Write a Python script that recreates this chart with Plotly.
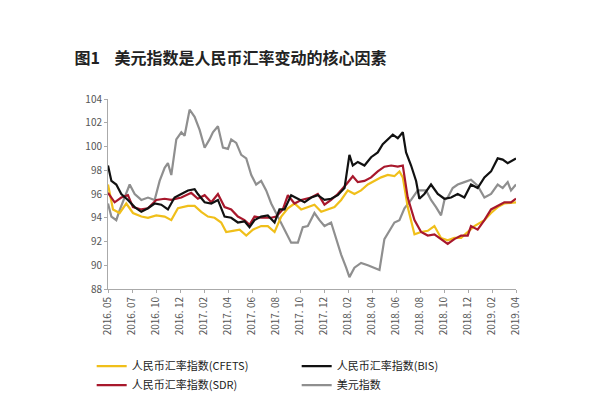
import plotly.graph_objects as go
import numpy as np

tick_labels = ["2016. 05","2016. 07","2016. 10","2016. 12","2017. 02","2017. 04","2017. 06","2017. 08","2017. 10",
               "2017. 12","2018. 02","2018. 04","2018. 06","2018. 08","2018. 10","2018. 12","2019. 02","2019. 04"]

usd_x = [0,0.29,0.71,1.0,1.86,2.29,2.86,3.43,4.0,4.43,4.86,5.14,5.43,5.86,6.29,6.57,7.0,7.43,7.86,8.29,8.71,9.0,9.43,9.86,10.29,10.57,11.0,11.43,11.86,12.29,12.71,13.14,13.57,14.0,14.57,15.14,15.71,16.29,16.71,17.14,17.71,18.14,18.57,19.14,19.57,20.0,20.43,20.71,21.14,21.71,22.29,22.86,23.29,23.71,24.14,24.57,25.0,25.43,26.0,26.57,27.29,27.71,28.14,28.57,28.86,29.14,29.57,30.0,30.57,31.14,31.71,32.29,32.86,33.43,33.86,34.29,34.57,35]
usd_y = [95.2,94.1,93.8,94.65,96.8,96.0,95.5,95.7,95.5,97.1,98.2,98.6,97.6,100.6,101.2,100.9,103.1,102.5,101.4,99.9,100.6,101.2,101.7,99.9,99.8,100.6,100.3,99.3,99.0,97.6,96.8,97.1,96.3,95.2,94.1,93.0,91.9,91.9,93.2,93.3,94.4,93.8,93.3,93.6,92.2,90.9,89.8,89.0,89.8,90.2,90.0,89.8,89.6,92.2,92.9,93.6,93.8,94.8,95.5,96.3,96.3,95.5,94.9,94.2,95.5,95.7,96.5,96.8,97.0,97.2,96.7,95.7,96.0,96.8,96.5,97.0,96.3,96.8]

bis_x = [0,0.29,0.71,1.14,1.71,2.29,2.86,3.43,4.0,4.57,5.14,5.71,6.29,6.86,7.43,7.71,8.29,8.86,9.43,10.0,10.57,11.14,11.71,12.14,12.57,13.14,13.71,14.29,14.71,15.14,15.71,16.29,16.86,17.43,18.0,18.57,19.14,19.71,20.29,20.71,21.0,21.43,22.0,22.57,23.14,23.57,24.0,24.43,24.86,25.29,25.57,26.0,26.43,26.71,27.14,27.71,28.29,28.86,29.43,30.0,30.57,31.14,31.71,32.29,32.86,33.43,33.86,34.29,35]
bis_y = [98.4,97.1,96.8,96.0,95.5,94.9,94.5,94.8,95.2,95.1,94.7,95.7,96.0,96.3,96.4,96.0,95.3,95.2,95.5,94.1,94.0,93.6,93.7,93.2,93.8,94.1,94.2,93.6,94.7,94.7,95.9,95.6,95.3,95.7,95.9,95.5,95.6,95.9,96.5,99.3,98.4,98.7,98.4,99.1,99.5,100.2,100.6,101.0,100.7,101.2,99.5,98.4,97.1,95.6,96.0,96.8,96.0,95.6,95.7,96.0,95.7,96.8,96.5,97.4,97.9,99.0,98.9,98.6,99.0]

sdr_x = [0,0.57,1.14,1.71,2.14,2.86,3.43,4.14,4.86,5.43,6.29,7.14,7.71,8.29,8.86,9.43,10.0,10.57,11.14,11.71,12.14,12.57,13.14,14.0,14.43,15.0,15.43,16.0,16.57,17.43,18.0,18.57,19.14,19.71,20.43,21.0,21.43,22.0,22.57,23.14,23.71,24.29,24.86,25.29,25.71,26.29,26.86,27.43,28.0,28.57,29.14,29.71,30.29,30.86,31.14,31.71,32.29,32.86,33.43,34.0,34.57,35]
sdr_y = [96.1,95.3,95.7,95.9,94.9,94.7,94.8,95.5,95.6,95.5,95.7,96.1,95.6,95.9,95.3,96.0,94.9,94.7,94.1,93.8,93.4,94.1,94.0,94.0,94.1,94.7,95.9,95.2,95.5,95.7,96.0,95.1,95.5,96.0,96.8,97.5,97.0,97.1,97.4,97.9,98.3,98.4,98.3,98.4,95.7,93.8,92.8,92.5,92.6,92.2,91.8,92.2,92.5,92.5,93.3,93.0,93.8,94.7,95.0,95.3,95.3,95.6]

cfets_x = [0,0.43,1.0,1.57,2.14,2.86,3.43,4.14,4.86,5.43,6.0,6.86,7.43,8.0,8.57,9.14,9.71,10.14,10.71,11.29,11.86,12.43,13.14,13.71,14.29,14.86,15.43,16.0,16.57,17.14,17.71,18.29,18.86,19.43,20.0,20.57,21.14,21.71,22.29,22.86,23.43,24.0,24.57,25.0,25.29,25.71,26.29,26.86,27.43,28.0,28.57,29.14,29.71,30.29,30.86,31.43,32.29,32.86,33.43,34.0,35]
cfets_y = [96.8,94.7,94.4,95.2,94.4,94.1,94.0,94.2,94.1,93.8,94.8,95.0,95.0,94.5,94.1,94.0,93.6,92.8,92.9,93.0,92.5,93.0,93.3,93.3,92.8,94.1,94.8,95.2,94.7,94.9,95.1,94.5,94.7,94.9,95.5,96.3,96.0,96.3,96.8,97.1,97.4,97.6,97.5,97.9,97.4,94.9,92.6,92.8,92.9,93.3,92.3,92.1,92.3,92.3,92.8,93.3,93.8,94.4,94.9,95.2,95.3]

names = ["人民币汇率指数(CFETS)", "人民币汇率指数(BIS)", "人民币汇率指数(SDR)", "美元指数"]
series = [(cfets_x, cfets_y, "#f0bf1a"), (bis_x, bis_y, "#111111"), (sdr_x, sdr_y, "#a8182c"), (usd_x, usd_y, "#8f8f8f")]

fig = go.Figure()
order = [3, 0, 2, 1]
for i in order:
    x, y, c = series[i]
    fig.add_trace(go.Scatter(x=x, y=y, mode="lines", name=names[i], line=dict(color=c, width=2.2),
                             legendrank=i + 1))

fig.update_layout(
    width=604, height=404, plot_bgcolor="white", paper_bgcolor="white",
    margin=dict(l=100, r=96, t=91, b=115),
    font=dict(family="Noto Sans CJK SC", color="#333"),
    title=dict(text="<b>图1    美元指数是人民币汇率变动的核心因素</b>", x=0.11, xanchor="left", y=0.875, yanchor="middle",
               font=dict(size=16, color="#222")),
    showlegend=True,
    legend=dict(orientation="h", x=-0.04, y=-0.33, xanchor="left", yanchor="top", entrywidth=160,
                font=dict(size=11, color="#222"), traceorder="normal", tracegroupgap=0),
)
fig.update_xaxes(range=[0, 35], tickvals=list(np.linspace(0, 35, len(tick_labels))), ticktext=tick_labels,
                 tickangle=-90, showgrid=False, showline=True, linecolor="#aaa", ticks="outside",
                 ticklen=3, tickcolor="#aaa", tickfont=dict(size=10, color="#555"), zeroline=False)
fig.update_yaxes(range=[88, 104], dtick=2, showgrid=False, showline=True, linecolor="#aaa", ticks="outside",
                 ticklen=3, tickcolor="#aaa", tickfont=dict(size=10, color="#555"), zeroline=False)
fig.write_html("out.html")
